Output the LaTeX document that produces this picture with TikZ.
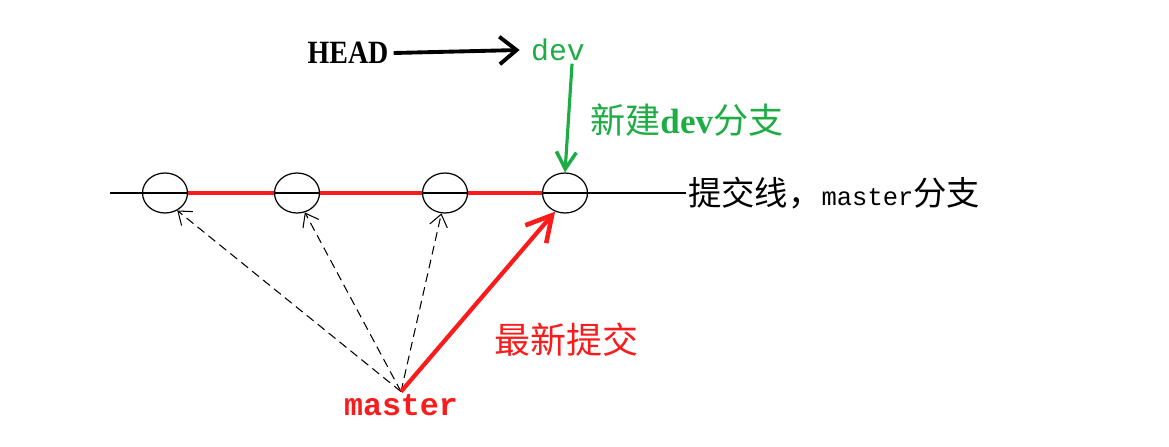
\documentclass[tikz,border=0pt]{standalone}
\usepackage{fontspec}
\setmainfont{Liberation Serif}
\setmonofont{Liberation Mono}
\newfontfamily\cjk{Noto Sans CJK SC}
\usepackage{tikz}
\usetikzlibrary{arrows.meta, calc, positioning, shapes.geometric}
\definecolor{BranchGreen}{RGB}{30, 172, 68}
\definecolor{CommitRed}{RGB}{250, 28, 28}

\begin{document}
\begin{tikzpicture}[
        x=0.02cm, y=-0.02cm,
        commit/.style = {draw, ellipse, line width=0.7pt, minimum width=0.9cm, minimum height=0.8cm, inner sep=0pt},
        headline/.style = {draw, line width=2.2pt, -{Straight Barb[length=3.4mm, width=5.5mm, line width=2.2pt]}},
        devline/.style = {draw=BranchGreen, line width=1.8pt, -{Straight Barb[length=3.4mm, width=4mm, line width=2pt]}},
        histline/.style = {draw, dashed, dash pattern=on 5pt off 3pt, line width=0.6pt, -{Straight Barb[length=2.4mm, width=3.6mm, line width=0.6pt]}},
        newline/.style = {draw=CommitRed, line width=2.4pt, -{Straight Barb[length=5mm, width=5.5mm, line width=2.6pt]}},
        redline/.style = {draw=CommitRed, line width=2.2pt}
    ]
        \useasboundingbox (0,0) rectangle (1169,446);

        % Commit line
        \coordinate (line_start) at (110,193);
        \node (line_label) [anchor=west, inner sep=1pt] at (686,193) {\fontsize{19}{20}\selectfont{\cjk 提交线，}{\fontsize{14.5}{16}\selectfont\ttfamily master}{\cjk 分支}};
        \draw [line width=0.7pt] (line_start) -- (line_label.west);

        % Commits
        \node (c1) [commit] at (165,193) {};
        \node (c2) [commit] at (297,193) {};
        \node (c3) [commit] at (445,193) {};
        \node (c4) [commit] at (565,193) {};
        \draw [redline] (c1.east) -- (c2.west);
        \draw [redline] (c2.east) -- (c3.west);
        \draw [redline] (c3.east) -- (c4.west);

        % HEAD and dev
        \node (head) [font=\bfseries\fontsize{18.5}{20}\selectfont, xscale=0.86] at (348,53) {HEAD};
        \node (dev) [text=BranchGreen, font=\ttfamily\fontsize{17}{18}\selectfont] at (558,50) {dev};
        \draw [headline] (head.east) -- ([xshift=-3pt]dev.west);
        \draw [devline] ([xshift=8pt, yshift=2pt]dev.south) -- (c4.north);
        \node (dev_label) [anchor=west, text=BranchGreen, font=\fontsize{20}{22}\selectfont] at (584,120) {{\cjk 新建}\textbf{dev}{\cjk 分支}};

        % master
        \node (master) [text=CommitRed, font=\ttfamily\bfseries\fontsize{18}{20}\selectfont] at (401,405) {master};
        \draw [histline] ([yshift=-2pt]master.north) -- (c1.-55);
        \draw [histline] ([yshift=-2pt]master.north) -- (c2.-68);
        \draw [histline] ([yshift=-2pt]master.north) -- (c3.-100);
        \draw [newline] ([yshift=-2pt]master.north) -- (c4.-118);
        \node (new_label) [anchor=west, text=CommitRed, font=\cjk\fontsize{20.5}{22}\selectfont] at (488,340) {最新提交};

    \end{tikzpicture}
\end{document}
